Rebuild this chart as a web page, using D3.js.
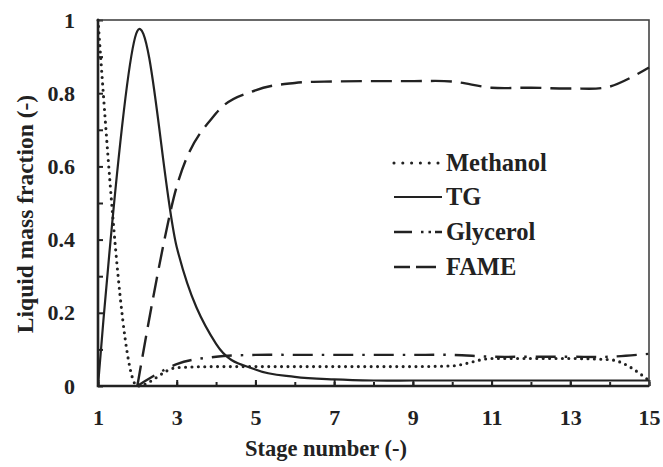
<!DOCTYPE html>
<html>
<head>
<meta charset="utf-8">
<script src="https://cdn.jsdelivr.net/npm/d3@7/dist/d3.min.js"></script>
<style>
    body { margin: 0; background: #ffffff; }
    text { font-family: "Liberation Serif", "Times New Roman", serif; font-weight: bold; fill: #222222; }
</style>
</head>
<body>
<div id="chart"></div>
<script>
// stage numbers along the column
var stages = [1, 2, 3, 4, 5, 6, 7, 8, 9, 10, 11, 12, 13, 14, 15];

// liquid mass fractions (null = not plotted)
var methanol = [1.0, 0.0, 0.05, 0.053, 0.053, 0.053, 0.053, 0.053, 0.053, 0.055, 0.075, 0.075, 0.075, 0.072, 0.015];
var tg       = [0.0, 0.97, 0.38, 0.115, 0.045, 0.025, 0.018, 0.015, 0.015, 0.015, 0.015, 0.015, 0.015, 0.015, 0.015];
var glycerol = [null, 0.0, 0.06, 0.08, 0.085, 0.085, 0.085, 0.085, 0.085, 0.085, 0.08, 0.08, 0.08, 0.08, 0.088];
var fame     = [null, 0.0, 0.545, 0.745, 0.808, 0.828, 0.832, 0.833, 0.833, 0.832, 0.815, 0.815, 0.813, 0.818, 0.87];

var xTickLabels = [1, 3, 5, 7, 9, 11, 13, 15];
var yTickLabels = [0, 0.2, 0.4, 0.6, 0.8, 1];
var yMinorTicks = [0.1, 0.3, 0.5, 0.7, 0.9];

var width = 663, height = 467;
var grid = {leftEdge: 98, rightEdge: 649, topEdge: 20, bottomEdge: 386};

var svg = d3.select('#chart').append('svg')
        .attr('width', width)
        .attr('height', height);

var x = d3.scaleLinear().domain([1, 15]).range([grid.leftEdge, grid.rightEdge]);
var y = d3.scaleLinear().domain([0, 1]).range([grid.bottomEdge, grid.topEdge]);

// ticks point inward, labels only on the major ones
var xMinor = svg.append('g')
        .attr('transform', 'translate(0,' + grid.bottomEdge + ')')
        .call(d3.axisBottom(x).tickValues(stages).tickSize(-4).tickFormat(''));
var xMajor = svg.append('g')
        .attr('transform', 'translate(0,' + grid.bottomEdge + ')')
        .call(d3.axisBottom(x).tickValues(xTickLabels).tickSize(-6).tickPadding(23).tickFormat(d3.format('d')));
var yMinor = svg.append('g')
        .attr('transform', 'translate(' + grid.leftEdge + ',0)')
        .call(d3.axisLeft(y).tickValues(yMinorTicks).tickSize(-5).tickFormat(''));
var yMajor = svg.append('g')
        .attr('transform', 'translate(' + grid.leftEdge + ',0)')
        .call(d3.axisLeft(y).tickValues(yTickLabels).tickSize(-5).tickPadding(23).tickFormat(function(d){ return String(d); }));

[xMinor, xMajor, yMinor, yMajor].forEach(function(g){
    g.select('.domain').remove();
    g.selectAll('line').attr('stroke', '#222222').attr('stroke-width', 2);
    g.selectAll('text').style('font-size', '22px').attr('fill', '#222222');
});

// plot frame, left and bottom a bit heavier
svg.append('rect')
        .attr('x', grid.leftEdge)
        .attr('y', grid.topEdge)
        .attr('width', grid.rightEdge - grid.leftEdge)
        .attr('height', grid.bottomEdge - grid.topEdge)
        .attr('fill', 'none')
        .attr('stroke', '#444444')
        .attr('stroke-width', 1.6);
svg.append('path')
        .attr('d', 'M' + grid.leftEdge + ',' + grid.topEdge + 'V' + grid.bottomEdge + 'H' + grid.rightEdge)
        .attr('fill', 'none')
        .attr('stroke', '#222222')
        .attr('stroke-width', 2.6);

var series = [
    {name: 'Methanol', values: methanol, curve: d3.curveMonotoneX, dash: '0,6.4', cap: 'round', width: 3.1, legendDash: '0,8.8'},
    {name: 'TG', values: tg, curve: d3.curveCardinal.tension(0), dash: null, cap: 'butt', width: 2.2, legendDash: null},
    {name: 'Glycerol', values: glycerol, curve: d3.curveCardinal.tension(0), dash: '20,9,2.5,9', cap: 'butt', width: 2.4, legendDash: '18,9,2.5,5,2.5,4,10'},
    {name: 'FAME', values: fame, curve: d3.curveCardinal.tension(0), dash: '21,9', cap: 'butt', width: 2.4, legendDash: '16,6,20'}
];

var lines = svg.append('g').attr('class', 'series');

series.forEach(function(s){
    var pts = stages.map(function(st, i){ return {stage: st, value: s.values[i]}; })
            .filter(function(d){ return d.value !== null; });
    var line = d3.line()
            .x(function(d){ return x(d.stage); })
            .y(function(d){ return y(d.value); })
            .curve(s.curve);
    lines.append('path')
            .attr('d', line(pts))
            .attr('fill', 'none')
            .attr('stroke', '#222222')
            .attr('stroke-width', s.width)
            .attr('stroke-linecap', s.cap)
            .attr('stroke-dasharray', s.dash);
});

// legend
var legend = svg.append('g').attr('class', 'legend');
var legendRowY = [163, 197, 232, 267];

series.forEach(function(s, i){
    var ly = legendRowY[i];
    legend.append('line')
            .attr('x1', 394)
            .attr('x2', 442)
            .attr('y1', ly)
            .attr('y2', ly)
            .attr('stroke', '#222222')
            .attr('stroke-width', s.width)
            .attr('stroke-linecap', s.cap)
            .attr('stroke-dasharray', s.legendDash);
    legend.append('text')
            .attr('x', 446)
            .attr('y', ly + 8)
            .style('font-size', '24.5px')
            .text(s.name);
});

// axis titles
svg.append('text')
        .attr('x', 326)
        .attr('y', 456)
        .attr('text-anchor', 'middle')
        .style('font-size', '22.5px')
        .text('Stage number (-)');

svg.append('text')
        .attr('text-anchor', 'middle')
        .attr('transform', 'translate(33,214)rotate(-90)')
        .style('font-size', '23.5px')
        .text('Liquid mass fraction (-)');
</script>
</body>
</html>
